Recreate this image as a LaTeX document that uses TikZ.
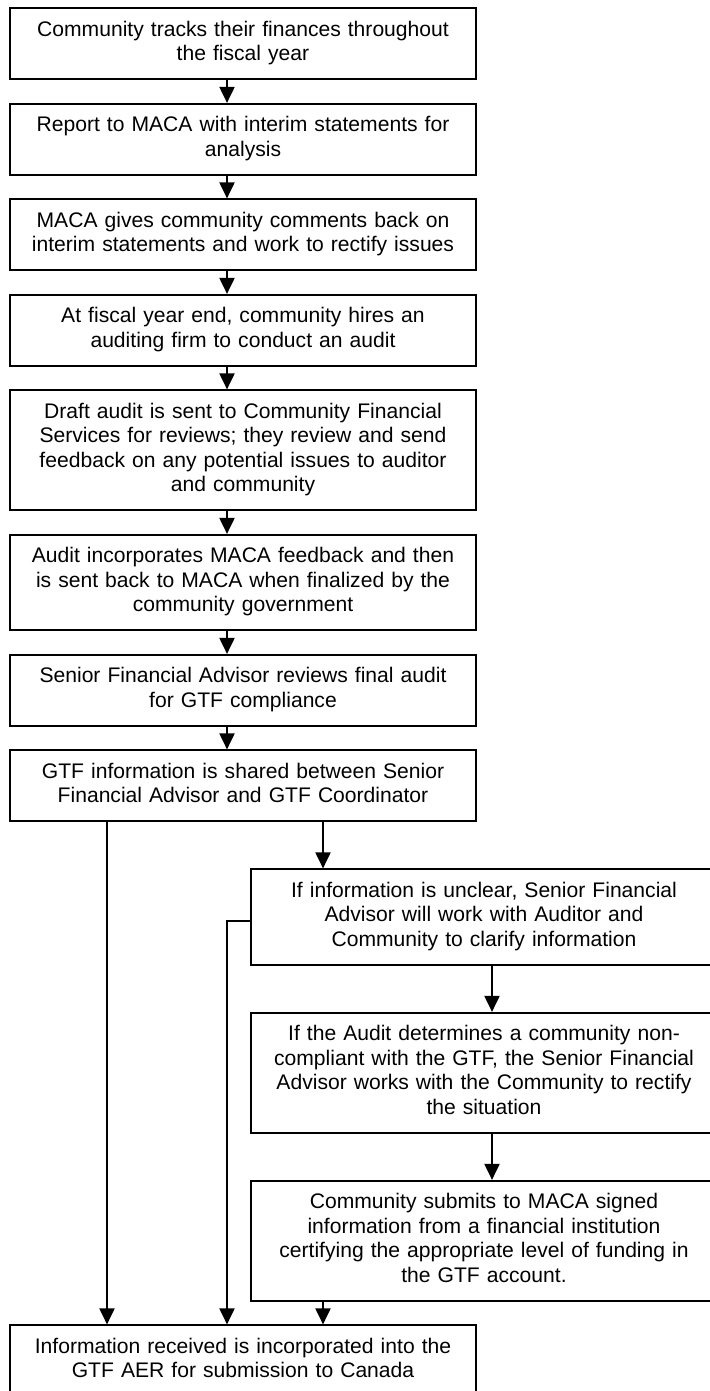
\documentclass[tikz,border=0pt]{standalone}
\usepackage{fontspec}
\setmainfont{Liberation Sans}
\usepackage{xcolor}
\definecolor{inkdark}{RGB}{0, 0, 0}
\usepackage{tikz}
\usetikzlibrary{arrows.meta, positioning}

\begin{document}
\begin{tikzpicture}[
        node distance=11.35pt,
        stage/.style={
            rectangle,
            draw=inkdark,
            line width=0.9pt,
            fill=white,
            text width=225pt,
            inner xsep=4pt,
            inner ysep=5.5pt,
            align=center,
            font=\fontsize{10.55}{12.25}\selectfont,
            execute at begin node=\strut,
            execute at end node=\strut
        },
        link/.style={
            -{Triangle[width=7.5pt, length=8pt]},
            line width=1pt,
            color=inkdark
        }
    ]
        \useasboundingbox (0,0) rectangle (354.5pt,-695.5pt);

        % Nodes
        \node[stage] (track) at (121.5pt,-21.9pt) {Community tracks their finances throughout\\the fiscal year};
        \node[stage, below=of track] (report) {Report to MACA with interim statements for\\analysis};
        \node[stage, below=of report] (comments) {MACA gives community comments back on\\interim statements and work to rectify issues};
        \node[stage, below=of comments] (hire) {At fiscal year end, community hires an\\auditing firm to conduct an audit};
        \node[stage, below=of hire] (draft) {Draft audit is sent to Community Financial\\Services for reviews; they review and send\\feedback on any potential issues to auditor\\and community};
        \node[stage, below=of draft] (finalize) {Audit incorporates MACA feedback and then\\is sent back to MACA when finalized by the\\community government};
        \node[stage, below=of finalize] (review) {Senior Financial Advisor reviews final audit\\for GTF compliance};
        \node[stage, below=of review] (share) {GTF information is shared between Senior\\Financial Advisor and GTF Coordinator};
        \node[stage, below=23.1pt of share, xshift=120.5pt] (clarify) {If information is unclear, Senior Financial\\Advisor will work with Auditor and\\Community to clarify information};
        \node[stage, below=23.1pt of clarify] (rectify) {If the Audit determines a community non-\\compliant with the GTF, the Senior Financial\\Advisor works with the Community to rectify\\the situation};
        \node[stage, below=23.1pt of rectify] (certify) {Community submits to MACA signed\\information from a financial institution\\certifying the appropriate level of funding in\\the GTF account.};
        \node[stage, below=of certify, xshift=-120.5pt] (aer) {Information received is incorporated into the\\GTF AER for submission to Canada};

        % Columns of the connectors
        \coordinate (spine) at (113.5pt,0);
        \coordinate (bypass) at (53.5pt,0);
        \coordinate (split) at (161.5pt,0);
        \coordinate (rspine) at (246pt,0);

        % Arrows
        \draw[link] (track.south -| spine) -- (report.north -| spine);
        \draw[link] (report.south -| spine) -- (comments.north -| spine);
        \draw[link] (comments.south -| spine) -- (hire.north -| spine);
        \draw[link] (hire.south -| spine) -- (draft.north -| spine);
        \draw[link] (draft.south -| spine) -- (finalize.north -| spine);
        \draw[link] (finalize.south -| spine) -- (review.north -| spine);
        \draw[link] (review.south -| spine) -- (share.north -| spine);
        \draw[link] (share.south -| bypass) -- (aer.north -| bypass);
        \draw[link] (share.south -| split) -- (clarify.north -| split);
        \draw[link] ([yshift=-2pt]clarify.west) -| (aer.north -| spine);
        \draw[link] (clarify.south -| rspine) -- (rectify.north -| rspine);
        \draw[link] (rectify.south -| rspine) -- (certify.north -| rspine);
        \draw[link] (certify.south -| split) -- (aer.north -| split);
    \end{tikzpicture}
\end{document}
